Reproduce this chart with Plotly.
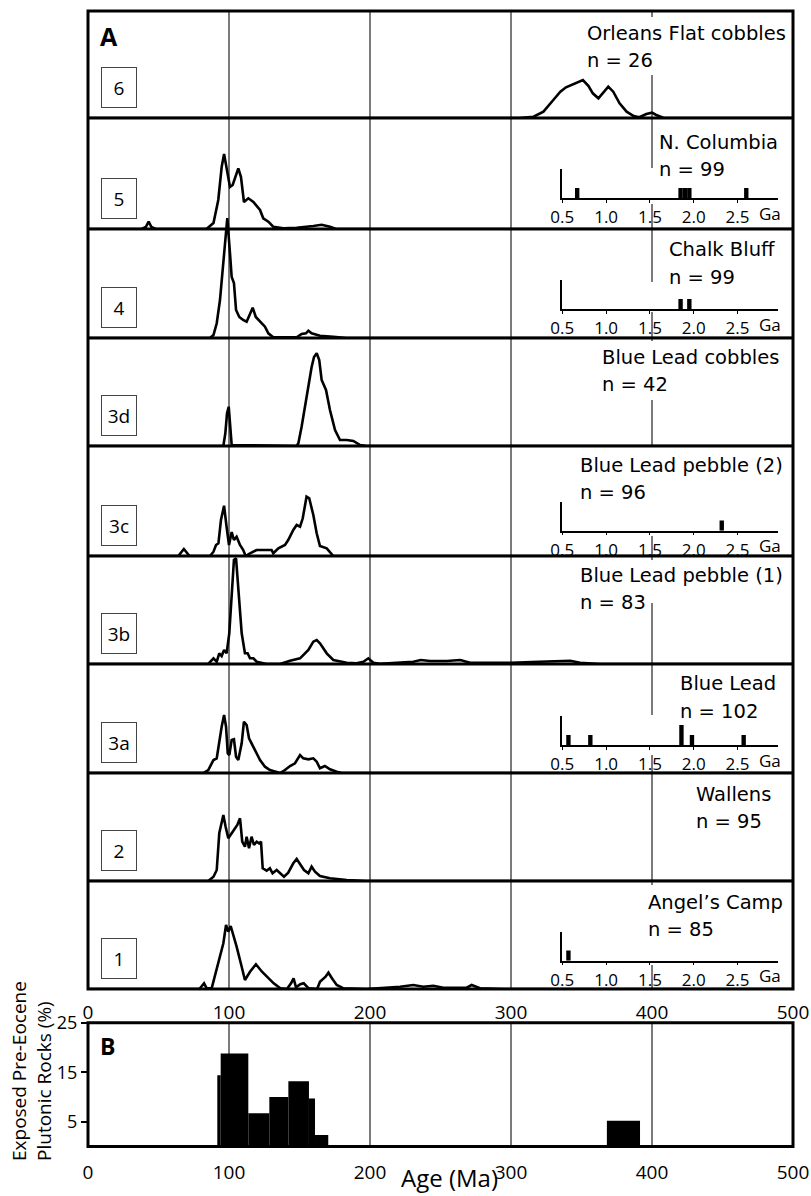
import plotly.graph_objects as go

W, H = 811, 1196

# ------------------------------------------------------------------
# DATA  (relative probability, arbitrary units; ages in Ma)
# ------------------------------------------------------------------
ages_6 = [0, 306, 316, 323, 330, 335, 339, 344, 349, 351, 355, 358, 362, 365, 369, 372.5, 377, 382, 387, 391, 396, 400, 403, 408, 415, 500]
prob_6 = [0, 0, 1.3, 6.3, 18, 26.3, 30.7, 34, 37.3, 38, 32, 24.7, 19.7, 24.7, 31.3, 26.3, 14.7, 6.3, 2, 0.7, 4, 5.3, 3, 0.3, 0, 0]

ages_5 = [0, 38, 41, 43, 45, 48, 84, 89, 92.4, 94.8, 96.5, 98.3, 100.7, 102.6, 104.7, 106.6, 108.5, 110.6, 113.7, 117.3, 122, 124.3, 127.9, 131.4, 138.5, 148, 159.8, 165.7, 171.6, 176, 500]
prob_5 = [0, 0, 2, 7.3, 2, 0, 0, 6, 29, 62, 75, 62, 42, 44, 52, 60.7, 52, 27, 30.7, 27, 19, 10.7, 7.3, 2.3, 0.7, 1.3, 3, 4.3, 2.3, 0, 0]

ages_4 = [0, 86.5, 89, 91.3, 93.6, 95.5, 97.2, 98.8, 100.7, 101.9, 103.5, 105, 107.3, 110, 112.5, 114.9, 116.8, 119, 122, 125.5, 127.9, 131.4, 148, 151.5, 154.6, 156.3, 158.6, 164.5, 174, 183.5, 500]
prob_4 = [0, 0, 3, 14.7, 38, 68, 98, 120, 84.7, 61, 55, 28, 21, 18, 16.3, 24.7, 30.3, 21, 16.3, 11.3, 4.7, 0.7, 0.7, 4, 4.7, 7.3, 4.7, 2.3, 1.3, 0, 0]

ages_3d = [0, 96, 97.4, 98.6, 99.8, 100.7, 101.9, 148, 149.2, 151.5, 155, 158.6, 160.3, 162.2, 164, 165.7, 168.8, 171.6, 175.2, 178.7, 183.5, 188.2, 193, 197.6, 500]
prob_3d = [0, 0, 12.7, 32.7, 39.3, 26, 1, 0, 2.7, 19.3, 49, 79, 89, 92.7, 86, 66, 56, 36, 16, 6, 6, 5, 1, 0, 0]

ages_3c = [0, 64, 68, 72, 86.5, 89, 90.8, 92.5, 94.3, 96.5, 98.3, 100, 101.9, 103.5, 105.4, 107.8, 110.1, 111.8, 114.9, 119.6, 126.7, 130.2, 131.4, 135, 139.7, 142, 145.6, 148, 150.4, 152.3, 155, 156.9, 159.8, 162.2, 164.5, 169.3, 174, 500]
prob_3c = [0, 0, 7, 0, 0, 4.3, 11, 12.7, 36, 50.3, 29, 11, 24, 16, 19.3, 11, 6, 0, 2.7, 6, 6, 6, 2.7, 7.7, 11, 16, 26, 31, 29.3, 37.7, 59.3, 57.7, 41, 22.7, 10, 7.7, 0, 0]

ages_3b = [0, 85.3, 89, 91.3, 93.1, 94.8, 96.5, 98.3, 100.2, 101.9, 103.5, 105, 106.6, 109, 111.3, 113.2, 114.9, 117.3, 119.6, 126.7, 136.2, 143.3, 150.4, 156.3, 159.8, 162.2, 164.5, 169.3, 174, 183.5, 190.5, 195.3, 198.8, 202.4, 207, 221, 230.7, 236, 242.6, 254.4, 264, 271, 280, 300, 320, 335, 342, 349, 363, 500]
prob_3b = [0, 0, 5.7, 2.3, 10.7, 8, 14, 10.7, 30.7, 74, 104, 105.7, 74, 30.7, 10.7, 10.7, 5.7, 5.7, 2.3, 0, 0, 3.3, 5.7, 14, 22.3, 24, 20.7, 10.7, 4, 1.3, 0.7, 2.3, 5.7, 1.3, 0.3, 1.3, 2.3, 4, 3, 3, 4, 1.3, 1.3, 1.3, 2.3, 3, 3.3, 1.3, 0, 0]

ages_3a = [0, 81.8, 85.3, 89, 91.3, 93.1, 94.8, 96.5, 97.9, 99.1, 100.2, 101.9, 103.5, 105, 106.6, 109, 110.6, 112.5, 114.2, 116, 118.4, 122, 125.5, 129, 136.2, 139.7, 143.3, 146.8, 150.4, 152.7, 156.3, 159.8, 162.2, 164.5, 168, 171.6, 176.4, 180, 500]
prob_3a = [0, 0, 3, 13, 14.7, 33, 46.3, 58, 46.3, 19.7, 18, 33, 33.7, 16.3, 13, 29.7, 51.3, 48, 34.7, 29.7, 23, 13, 6.3, 3, 0, 3, 7, 9.7, 18, 14.7, 13.7, 14.7, 11.3, 4.7, 7, 3.7, 1.3, 0, 0]

ages_2 = [0, 85.3, 89, 91.3, 93.1, 94.8, 96, 97.6, 99.5, 101.9, 104.3, 105.9, 107.8, 109.4, 111.3, 112.5, 114.2, 116, 117.7, 119.6, 121.3, 122.7, 123.9, 126.7, 129, 130.9, 133.8, 136.2, 139, 142, 145.6, 148, 150.8, 153.2, 156.3, 158.6, 161, 164.5, 171.6, 183.5, 197.6, 500]
prob_2 = [0, 0, 4.3, 11, 47.7, 59.3, 66, 54.3, 42.7, 47.7, 52.7, 56, 62.7, 39.3, 34.3, 44.3, 32.7, 44.3, 36, 39.3, 37.7, 39.3, 12.7, 10.3, 12.7, 7.7, 11, 7.7, 4.3, 8.3, 17.7, 22, 16, 11, 7.7, 14.3, 9.3, 5, 2.7, 1, 0, 0]

ages_1 = [0, 79, 82.3, 84.2, 87.7, 91.3, 93.6, 96, 97.9, 99.5, 101.2, 103.1, 105.4, 109, 111.3, 114.9, 119.1, 123.4, 126.9, 131.7, 136.4, 141.1, 144, 145.8, 147.5, 150.6, 153, 156.5, 162.5, 164.5, 168.5, 170.5, 173, 176.4, 181.2, 197.6, 221.3, 230.7, 237.8, 244.9, 252, 268.5, 272.1, 275.6, 278, 294.5, 500]
prob_1 = [0, 0, 5.7, 0.7, 0.7, 19, 32.3, 45.7, 64, 57.3, 63, 54, 42.3, 22.3, 9, 17.3, 24.7, 17.3, 12.3, 5.7, 0.7, 0, 5.7, 10.7, 1.7, 4.7, 5.7, 0.7, 0, 7.3, 12.3, 16.3, 10.7, 4, 0.7, 0, 2.3, 4, 2.3, 3.3, 1.3, 1.3, 4, 2.3, 0.7, 0, 0]

row_ids = ["6", "5", "4", "3d", "3c", "3b", "3a", "2", "1"]
row_names = ["Orleans Flat cobbles", "N. Columbia", "Chalk Bluff", "Blue Lead cobbles",
             "Blue Lead pebble (2)", "Blue Lead pebble (1)", "Blue Lead", "Wallens", "Angel\u2019s Camp"]
row_n = ["n = 26", "n = 99", "n = 99", "n = 42", "n = 96", "n = 83", "n = 102", "n = 95", "n = 85"]
row_ages = [ages_6, ages_5, ages_4, ages_3d, ages_3c, ages_3b, ages_3a, ages_2, ages_1]
row_prob = [prob_6, prob_5, prob_4, prob_3d, prob_3c, prob_3b, prob_3a, prob_2, prob_1]

# Old (>500 Ma) grains, Ga, counts (insets)
old_rows = ["5", "4", "3c", "3a", "1"]
old_ages = [[0.67, 1.85, 1.90, 1.95, 2.60],
            [1.85, 1.95],
            [2.32],
            [0.57, 0.82, 1.86, 1.98, 2.57],
            [0.57]]
old_counts = [[1, 1, 1, 1, 1],
              [1, 1],
              [1],
              [1, 1, 2, 1, 1],
              [1]]
inset_ticks = [0.5, 1.0, 1.5, 2.0, 2.5]
inset_ticktext = ["0.5", "1.0", "1.5", "2.0", "2.5"]

# Panel B: exposed pre-Eocene plutonic rocks (%)
plut_left = [91.7, 94.1, 113.7, 128.6, 142.1, 156.7, 161.0, 368.0]
plut_right = [94.1, 113.7, 128.6, 142.1, 156.7, 161.0, 170.4, 391.5]
plut_pct = [14.4, 18.8, 6.7, 10.0, 13.2, 9.7, 2.3, 5.2]

age_ticks = [0, 100, 200, 300, 400, 500]
pct_ticks = [5, 15, 25]

# ------------------------------------------------------------------
# LAYOUT GEOMETRY (pixels)
# ------------------------------------------------------------------
def px(v):
    return v / W

def py(v):
    return 1 - v / H

XL, XR = 88, 793
A_TOP = 11
row_bottoms = [118, 229, 338, 446, 556, 664, 773, 881, 989]
B_TOP, B_BOT = 1022.7, 1146.5
text_pos = [(585, 33), (657, 142), (667, 250), (600, 357), (578, 465),
            (578, 575), (678, 684), (694, 794), (646, 902)]
inset_axis_y = {"5": 198.3, "4": 309.3, "3c": 530.7, "3a": 745.3, "1": 960.7}
INS_L, INS_R = 562.3, 778
line400_segments = [(11, 17), (75, 118), (118, 168), (204, 229), (229, 282), (312, 338),
                    (338, 341), (400, 446), (536, 556), (556, 560), (603, 664),
                    (664, 715), (755, 773), (773, 881), (881, 885), (965, 989)]

NUM_FONT = "Open Sans"
TXT_FONT = "DejaVu Sans"

fig = go.Figure()
layout = dict(
    width=W, height=H, autosize=False,
    margin=dict(l=0, r=0, t=0, b=0, pad=0, autoexpand=False),
    paper_bgcolor="white", plot_bgcolor="rgba(0,0,0,0)",
    showlegend=False,
)

annotations = []
shapes = []

# Panel A shared x axis
layout["xaxis"] = dict(domain=[px(XL), px(XR)], range=[0, 500], anchor="y9",
                       showgrid=False, zeroline=False, showline=False, automargin=False,
                       tickvals=age_ticks, ticks="outside", ticklen=6,
                       tickcolor="rgba(0,0,0,0)",
                       tickfont=dict(family=NUM_FONT, size=19, color="black"),
                       fixedrange=True)

for i in range(9):
    yname = "y" if i == 0 else f"y{i+1}"
    key = "yaxis" if i == 0 else f"yaxis{i+1}"
    bottom = row_bottoms[i]
    top = max(A_TOP, bottom - 140)
    layout[key] = dict(domain=[py(bottom), py(top)], range=[0, bottom - top],
                       anchor="x", visible=False, fixedrange=True, automargin=False)
    fig.add_trace(go.Scatter(x=row_ages[i], y=row_prob[i], mode="lines",
                             line=dict(color="black", width=2.6),
                             xaxis="x", yaxis=yname, hoverinfo="skip"))
    # row id box
    annotations.append(dict(text=row_ids[i], xref="paper", yref="paper",
                            x=px(118.7), y=py(bottom - 30.5), xanchor="center", yanchor="middle",
                            showarrow=False, width=34, height=39, borderpad=0,
                            bordercolor="#444", borderwidth=1, bgcolor="white",
                            font=dict(family=NUM_FONT, size=19, color="black")))
    tx, ty = text_pos[i]
    annotations.append(dict(text=row_names[i], xref="paper", yref="paper",
                            x=px(tx), y=py(ty), xanchor="left", yanchor="middle",
                            showarrow=False, font=dict(family=TXT_FONT, size=19.5, color="black")))
    annotations.append(dict(text=row_n[i], xref="paper", yref="paper",
                            x=px(tx), y=py(ty + 27.3), xanchor="left", yanchor="middle",
                            showarrow=False, font=dict(family=TXT_FONT, size=19.5, color="black")))

# Insets
for k, rid in enumerate(old_rows):
    xa = f"x{k+3}"
    ya = f"y{k+11}"
    ay = inset_axis_y[rid]
    layout[f"xaxis{k+3}"] = dict(domain=[px(INS_L), px(INS_R)], range=[0.5, 2.962],
                                 anchor=ya, showgrid=False, zeroline=False, automargin=False,
                                 showline=True, linewidth=1.5, linecolor="black",
                                 ticks="outside", ticklen=3, tickwidth=1, tickcolor="black",
                                 tickvals=inset_ticks, ticktext=inset_ticktext,
                                 tickfont=dict(family=NUM_FONT, size=17, color="black"),
                                 fixedrange=True)
    layout[f"yaxis{k+11}"] = dict(domain=[py(ay), py(ay - 29)], range=[0, 2.85],
                                  anchor=xa, showgrid=False, zeroline=False, automargin=False,
                                  showline=True, linewidth=1.5, linecolor="black",
                                  showticklabels=False, ticks="", fixedrange=True)
    fig.add_trace(go.Bar(x=old_ages[k], y=old_counts[k], width=0.05,
                         marker=dict(color="black", line=dict(width=0)),
                         xaxis=xa, yaxis=ya, hoverinfo="skip"))
    annotations.append(dict(text="Ga", xref="paper", yref="paper",
                            x=px(769.5), y=py(ay + 15), xanchor="center", yanchor="middle",
                            showarrow=False, font=dict(family=NUM_FONT, size=17, color="black")))

# Panel B
layout["xaxis2"] = dict(domain=[px(XL), px(XR)], range=[0, 500], anchor="y10",
                        showgrid=False, zeroline=False, showline=False, automargin=False,
                        tickvals=age_ticks, ticks="outside", ticklen=9,
                        tickcolor="rgba(0,0,0,0)",
                        tickfont=dict(family=NUM_FONT, size=19, color="black"),
                        fixedrange=True)
layout["yaxis10"] = dict(domain=[py(B_BOT), py(B_TOP)], range=[0, 25], anchor="x2",
                         showgrid=False, zeroline=False, showline=False, automargin=False,
                         tickvals=pct_ticks, ticks="outside", ticklen=6, tickwidth=1.5,
                         tickcolor="black",
                         tickfont=dict(family=NUM_FONT, size=18, color="black"),
                         fixedrange=True)
plut_mid = [(a + b) / 2 for a, b in zip(plut_left, plut_right)]
plut_w = [b - a for a, b in zip(plut_left, plut_right)]
fig.add_trace(go.Bar(x=plut_mid, y=plut_pct, width=plut_w,
                     marker=dict(color="black", line=dict(width=0)),
                     xaxis="x2", yaxis="y10", hoverinfo="skip"))

# Grid lines
for v in [100, 200, 300]:
    shapes.append(dict(type="line", xref="x", yref="paper", x0=v, x1=v,
                       y0=py(row_bottoms[-1]), y1=py(A_TOP),
                       line=dict(color="#222", width=1.2), layer="below"))
for a, b in line400_segments:
    shapes.append(dict(type="line", xref="x", yref="paper", x0=400, x1=400,
                       y0=py(b), y1=py(a), line=dict(color="#222", width=1.2), layer="below"))
for v in [100, 200, 300, 400]:
    shapes.append(dict(type="line", xref="x2", yref="paper", x0=v, x1=v,
                       y0=py(B_BOT), y1=py(B_TOP),
                       line=dict(color="#222", width=1.2), layer="below"))
# Row separators and frames
for yb in row_bottoms[:-1]:
    shapes.append(dict(type="line", xref="paper", yref="paper", x0=px(XL), x1=px(XR),
                       y0=py(yb), y1=py(yb), line=dict(color="black", width=3), layer="above"))
shapes.append(dict(type="rect", xref="paper", yref="paper", x0=px(XL), x1=px(XR),
                   y0=py(row_bottoms[-1]), y1=py(A_TOP),
                   line=dict(color="black", width=3), layer="above"))
shapes.append(dict(type="rect", xref="paper", yref="paper", x0=px(XL), x1=px(XR),
                   y0=py(B_BOT), y1=py(B_TOP),
                   line=dict(color="black", width=3), layer="above"))

# Panel letters & titles
annotations.append(dict(text="<b>A</b>", xref="paper", yref="paper", x=px(97.5), y=py(36),
                        xanchor="left", yanchor="middle", showarrow=False,
                        font=dict(family=NUM_FONT, size=25, color="black")))
annotations.append(dict(text="<b>B</b>", xref="paper", yref="paper", x=px(97.5), y=py(1045.5),
                        xanchor="left", yanchor="middle", showarrow=False,
                        font=dict(family=NUM_FONT, size=23, color="black")))
annotations.append(dict(text="Age (Ma)", xref="paper", yref="paper", x=px(449), y=0,
                        xanchor="center", yanchor="bottom", showarrow=False,
                        font=dict(family=NUM_FONT, size=24, color="black")))
annotations.append(dict(text="Exposed Pre-Eocene", xref="paper", yref="paper", x=px(19), y=py(1163),
                        xanchor="center", yanchor="bottom", textangle=-90, showarrow=False,
                        font=dict(family=NUM_FONT, size=19, color="black")))
annotations.append(dict(text="Plutonic Rocks (%)", xref="paper", yref="paper", x=px(44), y=py(1163),
                        xanchor="center", yanchor="bottom", textangle=-90, showarrow=False,
                        font=dict(family=NUM_FONT, size=19, color="black")))

layout["annotations"] = annotations
layout["shapes"] = shapes
fig.update_layout(**layout)
fig.write_html("out.html", config={"displayModeBar": False, "responsive": False},
               post_script="document.body.style.margin='0px';document.body.style.padding='0px';")
